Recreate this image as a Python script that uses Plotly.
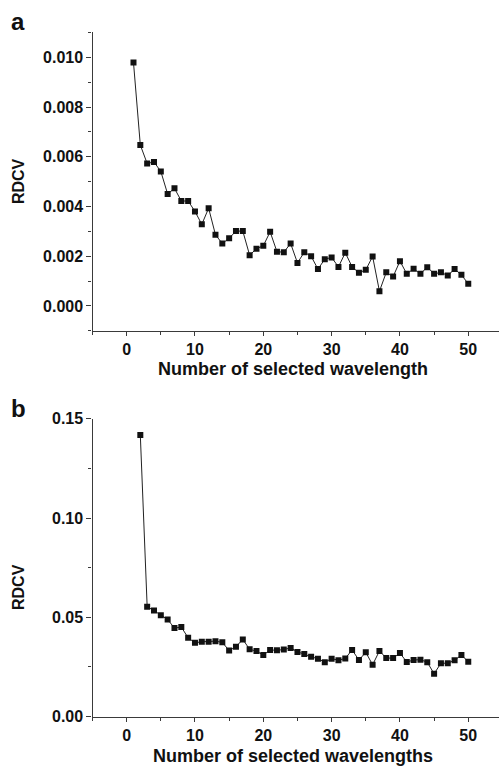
import plotly.graph_objects as go

# Panel a
x_a = list(range(1, 51))
rdcv_a = [0.00979, 0.00647, 0.00573, 0.00579, 0.00541, 0.00450, 0.00473, 0.00422, 0.00422, 0.00380,
          0.00328, 0.00393, 0.00286, 0.00251, 0.00272, 0.00301, 0.00301, 0.00204, 0.00230, 0.00242,
          0.00298, 0.00218, 0.00216, 0.00251, 0.00173, 0.00216, 0.00200, 0.00148, 0.00188, 0.00195,
          0.00157, 0.00214, 0.00157, 0.00133, 0.00145, 0.00199, 0.00059, 0.00135, 0.00118, 0.00180,
          0.00129, 0.00149, 0.00129, 0.00156, 0.00129, 0.00135, 0.00122, 0.00148, 0.00125, 0.00089]

# Panel b
x_b = list(range(2, 51))
rdcv_b = [0.1418, 0.0554, 0.0534, 0.0511, 0.0489, 0.0446, 0.0451, 0.0397, 0.0372, 0.0377,
          0.0377, 0.0380, 0.0374, 0.0333, 0.0352, 0.0389, 0.0339, 0.0330, 0.0310, 0.0336,
          0.0334, 0.0338, 0.0346, 0.0326, 0.0315, 0.0301, 0.0292, 0.0274, 0.0292, 0.0284,
          0.0293, 0.0336, 0.0285, 0.0324, 0.0261, 0.0331, 0.0295, 0.0295, 0.0320, 0.0275,
          0.0285, 0.0287, 0.0274, 0.0216, 0.0269, 0.0269, 0.0284, 0.0310, 0.0277]

x_tickvals = [0, 10, 20, 30, 40, 50]
ya_tickvals = [0.000, 0.002, 0.004, 0.006, 0.008, 0.010]
ya_ticktext = ["0.000", "0.002", "0.004", "0.006", "0.008", "0.010"]
yb_tickvals = [0.00, 0.05, 0.10, 0.15]
yb_ticktext = ["0.00", "0.05", "0.10", "0.15"]

W, H = 499, 776
FONT = "Liberation Sans, Arial, Helvetica, sans-serif"
AX = "#3a3a3a"

fig = go.Figure()
marker = dict(symbol="square", size=6, color="#111111")
line = dict(color="#222222", width=1)
fig.add_trace(go.Scatter(x=x_a, y=rdcv_a, mode="lines+markers", marker=marker, line=line,
                         xaxis="x", yaxis="y", showlegend=False))
fig.add_trace(go.Scatter(x=x_b, y=rdcv_b, mode="lines+markers", marker=marker, line=line,
                         xaxis="x2", yaxis="y2", showlegend=False))

def py(p):  # pixel from top -> paper fraction
    return (H - p) / H

xdom = [92.5 / W, 1.0]
tickfont = dict(family=FONT, size=16, color="#111111", weight="bold")
minor_common = dict(ticks="outside", ticklen=3, tickwidth=1.3, tickcolor=AX, showgrid=False)
common_x = dict(range=[-5, 54.5], showline=True, linecolor=AX, linewidth=1.3, ticks="outside",
                ticklen=4, tickwidth=1.3, tickcolor=AX, tickvals=x_tickvals, showgrid=False,
                zeroline=False, tickfont=tickfont, ticklabelstandoff=0,
                minor=dict(dtick=5, tick0=0, **minor_common))
fig.update_layout(
    width=W, height=H, margin=dict(l=0, r=0, t=0, b=0),
    paper_bgcolor="white", plot_bgcolor="white",
    xaxis=dict(domain=xdom, anchor="y", **common_x),
    xaxis2=dict(domain=xdom, anchor="y2", **common_x),
    yaxis=dict(domain=[py(330), py(25)], range=[-0.001, 0.011], anchor="x", showline=True, linecolor=AX,
               linewidth=1.3, ticks="outside", ticklen=5, tickwidth=1.3, tickcolor=AX,
               tickvals=ya_tickvals, ticktext=ya_ticktext, showgrid=False, zeroline=False, tickfont=tickfont,
               minor=dict(dtick=0.001, tick0=0, **minor_common)),
    yaxis2=dict(domain=[py(724.5), py(420)], range=[0, 0.15], anchor="x2", showline=True, linecolor=AX,
                linewidth=1.3, ticks="outside", ticklen=5, tickwidth=1.3, tickcolor=AX,
                tickvals=yb_tickvals, ticktext=yb_ticktext, showgrid=False, zeroline=False, tickfont=tickfont,
                minor=dict(dtick=0.025, tick0=0, **minor_common)),
)

def ann(text, x, y, size, angle=0):
    fig.add_annotation(text="<b>" + text + "</b>", x=x / W, y=py(y), xref="paper", yref="paper",
                       showarrow=False,
                       font=dict(family=FONT, size=size, color="#111111"), textangle=angle,
                       xanchor="center", yanchor="middle")

ann("a", 18, 14, 24)
ann("b", 18, 409, 24)
ann("RDCV", 18, 177, 16, -90)
ann("RDCV", 18, 592, 16, -90)
ann("Number of selected wavelength", 293, 369, 18)
ann("Number of selected wavelengths", 293, 765, 18)

fig.write_html("out.html", config={"displayModeBar": False})

# remove default page margin so the figure sits at the window origin
with open("out.html", "r", encoding="utf-8") as f:
    html = f.read()
html = html.replace("<head>", "<head><style>html,body{margin:0;padding:0;overflow:hidden;}</style>", 1)
with open("out.html", "w", encoding="utf-8") as f:
    f.write(html)
